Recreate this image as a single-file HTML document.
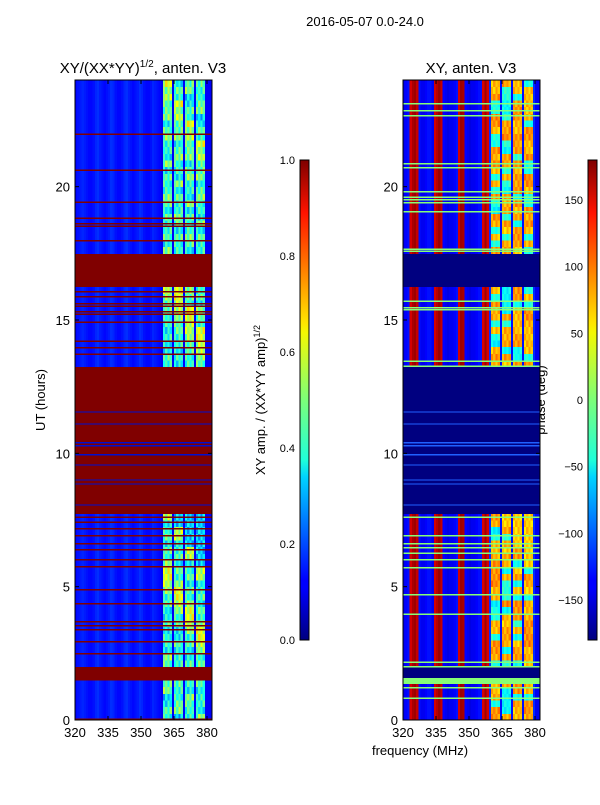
<!DOCTYPE html>
<html><head><meta charset="utf-8"><style>
body{margin:0;background:#fff;}
svg text{font-family:"Liberation Sans",sans-serif;fill:#000;}
</style></head><body>
<svg id="fig" width="600" height="800" xmlns="http://www.w3.org/2000/svg">
<text x="365" y="26" font-size="13" text-anchor="middle">2016-05-07 0.0-24.0</text>
<text x="143" y="73" font-size="15" text-anchor="middle">XY/(XX*YY)<tspan font-size="10" dy="-6">1/2</tspan><tspan dy="6">, anten. V3</tspan></text>
<text x="471" y="73" font-size="15" text-anchor="middle">XY, anten. V3</text>
<text transform="translate(45,400) rotate(-90)" font-size="13" text-anchor="middle">UT (hours)</text>
<text transform="translate(265,400) rotate(-90)" font-size="13" text-anchor="middle">XY amp. / (XX*YY amp)<tspan font-size="9" dy="-5">1/2</tspan></text>
<text transform="translate(545,400) rotate(-90)" font-size="13" text-anchor="middle">phase (deg)</text>
<text x="420" y="755" font-size="13" text-anchor="middle">frequency (MHz)</text>
<g id="left" shape-rendering="crispEdges"></g>
<g id="right" shape-rendering="crispEdges"></g>
<g id="axes"></g>
<defs>
<linearGradient id="jet" x1="0" y1="1" x2="0" y2="0">
<stop offset="0" stop-color="#00007f"/><stop offset="0.11" stop-color="#0000ff"/><stop offset="0.125" stop-color="#0000ff"/>
<stop offset="0.34" stop-color="#00d4ff"/><stop offset="0.375" stop-color="#1fffd9"/><stop offset="0.5" stop-color="#7cff79"/>
<stop offset="0.64" stop-color="#f4f802"/><stop offset="0.66" stop-color="#ffe600"/><stop offset="0.89" stop-color="#ff1300"/><stop offset="1" stop-color="#7f0000"/>
</linearGradient>
</defs>
<rect x="300" y="160" width="9" height="480" fill="url(#jet)" stroke="#000" stroke-width="1"/>
<rect x="588" y="160" width="9" height="480" fill="url(#jet)" stroke="#000" stroke-width="1"/>
</svg>
<script>
// ---- data ----
const yTicks = [0, 5, 10, 15, 20];
const xTicks = [320, 335, 350, 365, 380];
const ampTicks = [0.0, 0.2, 0.4, 0.6, 0.8, 1.0];
const phaseTicks = [-150, -100, -50, 0, 50, 100, 150];
// left amplitude column profile, 320..381 MHz (1 MHz channels); 1 = bright-zone channel
const leftColProfile = [0.13,0.14,0.15,0.16,0.15,0.14,0.13,0.13,0.14,0.16,0.17,0.15,0.14,0.13,0.14,0.15,0.17,0.16,0.14,0.13,0.13,0.14,0.16,0.17,0.15,0.14,0.13,0.14,0.15,0.17,0.16,0.14,0.13,0.13,0.14,0.16,0.15,0.14,0.13,
 0.11,1,1,1,1,0.12,1,1,1,1,0.12,1,1,1,1,0.12,1,1,1,1,0.12,0.12,0.12];
// within-strip amplitude offsets
const stripOffsets = [0.06,-0.04,0.02,-0.08];
// right phase column profile (deg), 320..381 MHz; 999 = bright-zone channel
const rightColProfile = [-140,-135,-130,150,165,170,155,-130,-140,-140,-135,-130,-130,-140,150,160,170,155,-135,-140,-145,-140,-140,-135,-130,150,170,165,-135,-140,-145,-140,-140,-135,-130,-130,150,170,150,
 -120,999,999,999,999,-130,999,999,999,999,-130,999,999,999,999,-130,999,999,999,999,-120,-140,-140];
// per quarter-hour texture of bright region (0..9), hour 0 -> 24
const leftTex  = "564376556745546446578997564654883333333333333333333385644545566788995674655646755647455764766879";
const rightTex = "887655557688756774659888656746874444444444444444444476854757668755556887576847876758687758977855";
// flagged intervals (hours)
const flagged = [[7.84,13.24],[16.24,17.55],[1.58,1.95]];
const leftRedLines = [0.02,2.47,2.92,3.37,3.52,3.67,4.35,4.87,5.74,6.0,6.38,6.6,6.9,7.16,7.4,7.6,13.7,13.95,14.2,14.9,15.2,15.3,15.5,15.6,15.86,16.05,17.96,18.5,18.6,18.8,19.4,20.6,21.95];
const flagGaps = [11.55,11.1,10.39,10.28,9.94,9.56,9.0,8.85,8.06];
const rightGreenLines = [23.1,22.85,22.65,20.85,20.7,19.8,19.6,19.5,19.4,19.05,17.65,17.58,15.7,15.45,15.38,13.45,13.27,7.6,6.9,6.6,6.45,6.26,6.0,5.7,4.7,3.97,2.17,1.99,1.2,0.82];
const rightGreenBands = [[1.35,1.58]];
// ---- helpers ----
const NS="http://www.w3.org/2000/svg";
function jet(v){v=Math.max(0,Math.min(1,v));
 const r=Math.max(0,Math.min(1,1.5-Math.abs(4*v-3))),g=Math.max(0,Math.min(1,1.5-Math.abs(4*v-2))),b=Math.max(0,Math.min(1,1.5-Math.abs(4*v-1)));
 return `rgb(${Math.round(r*255)},${Math.round(g*255)},${Math.round(b*255)})`;}
function Y(h){return 720-h*(640/24);}
function Xf(x0){return f=>x0+(f-320)*2.2;}
function rect(g,x,y,w,h,fill,name){const r=document.createElementNS(NS,'rect');
 r.setAttribute('x',x);r.setAttribute('y',y);r.setAttribute('width',w);r.setAttribute('height',h);r.setAttribute('fill',fill);
 
 
 g.appendChild(r);return r;}
function text(g,x,y,s,anchor,name,size){const t=document.createElementNS(NS,'text');
 t.setAttribute('x',x);t.setAttribute('y',y);t.setAttribute('font-size',size||13);t.setAttribute('text-anchor',anchor);t.textContent=s;
 
 
 g.appendChild(t);}
function isFlag(h){return flagged.some(a=>h>=a[0]&&h<a[1]);}
const strip=c=>c<45?0:c<50?1:c<55?2:3;
function drawPanel(g,x0,profile,tex,isAmp){
 const X=Xf(x0);
 for(let r=0;r<96;r++){
  const h0=r*0.25,hc=h0+0.125;
  const y=Y(h0+0.25),hh=640/96;
  if(isFlag(hc)){rect(g,x0,y,137,hh+0.5,isAmp?jet(1):jet(0),'flagged-row');continue;}
  for(let c=0;c<profile.length;c++){
   const x=X(320+c),w=(c==profile.length-1)?(x0+137-x):2.7;
   let v;
   const d=+tex[(r+strip(c)*3)%tex.length]||4;
   const off=stripOffsets[(c+r)%4];
   if(isAmp){v=profile[c]>=1?0.2+d*0.045+off:profile[c];}
   else{const p=profile[c];
    if(p==999){const k=(d*3+strip(c)*7)%10;v=k<3?0.3+d*0.015+off*0.4:0.62+d*0.015+off*0.5;}
    else v=(p+180)/360;}
   rect(g,x,y,w,hh+0.5,jet(v),'heatmap-cell');
  }
 }
 if(isAmp){
  leftRedLines.forEach(h=>rect(g,x0,Y(h)-1,137,1.5,jet(1),'flagged-line'));
  flagGaps.forEach(h=>rect(g,x0,Y(h)-0.7,137,1.2,'#0010d0','data-gap-line'));
 }else{
  flagGaps.forEach(h=>rect(g,x0,Y(h)-0.7,137,1.2,'#2060ff','data-gap-line'));
  rightGreenLines.forEach(h=>rect(g,x0,Y(h)-0.8,137,1.5,'#86ff76','flat-phase-line'));
  rightGreenBands.forEach(b=>rect(g,x0,Y(b[1]),137,Y(b[0])-Y(b[1]),'#86ff76','flat-phase-band'));
 }
}
drawPanel(document.getElementById('left'),75,leftColProfile,leftTex,true);
drawPanel(document.getElementById('right'),403,rightColProfile,rightTex,false);
// axes
const ax=document.getElementById('axes');
[75,403].forEach((x0,i)=>{
 const fr=document.createElementNS(NS,'rect');
 fr.setAttribute('x',x0);fr.setAttribute('y',80);fr.setAttribute('width',137);fr.setAttribute('height',640);
 fr.setAttribute('fill','none');fr.setAttribute('stroke','#000');
 
 
 ax.appendChild(fr);
 const X=Xf(x0);
 yTicks.forEach(t=>{rect(ax,x0,Y(t)-0.5,4,1,'#000','y-tick');rect(ax,x0+133,Y(t)-0.5,4,1,'#000','y-tick');
  text(ax,x0-5,Y(t)+5,String(t),'end','y-tick-label');});
 xTicks.forEach(t=>{rect(ax,X(t)-0.5,716,1,4,'#000','x-tick');rect(ax,X(t)-0.5,80,1,4,'#000','x-tick');
  text(ax,X(t),737,String(t),'middle','x-tick-label');});
});
ampTicks.forEach(t=>{const y=640-t*480;rect(ax,300,y-0.5,9,1,'#000','amp-colorbar-tick');
 text(ax,295,y+4,t.toFixed(1),'end','amp-colorbar-label',11);});
phaseTicks.forEach(t=>{const y=640-(t+180)*480/360;rect(ax,588,y-0.5,9,1,'#000','phase-colorbar-tick');
 text(ax,583,y+4,(t<0?'\u2212'+(-t):String(t)),'end','phase-colorbar-label',11);});
</script>
</body></html>
